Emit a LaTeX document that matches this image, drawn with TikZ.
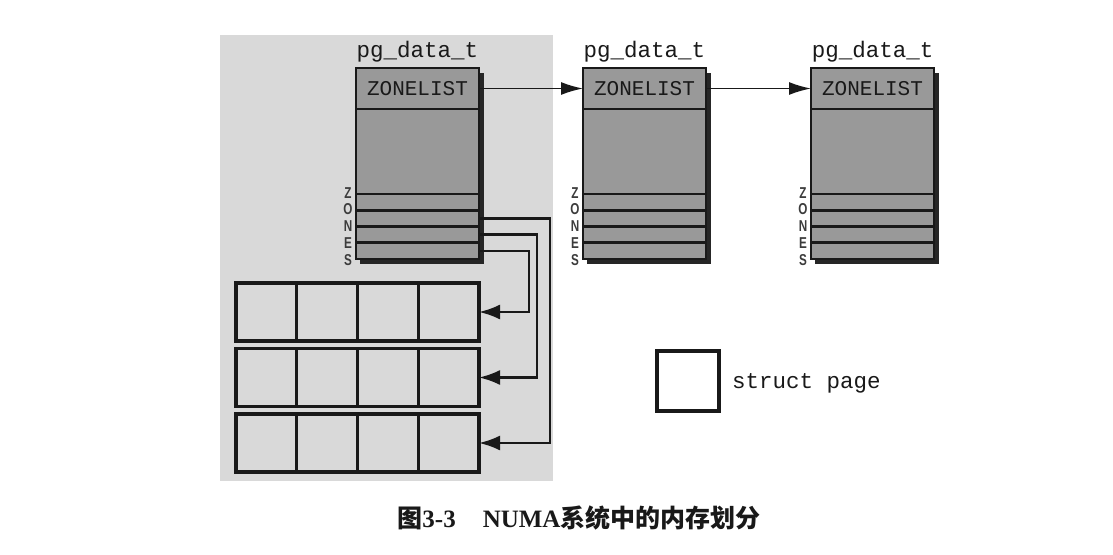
\documentclass[tikz,border=0pt]{standalone}
\usepackage{fontspec}
\setmonofont{Liberation Mono}
\newfontfamily\cjk{Noto Sans CJK SC}
\newfontfamily\capfont{Liberation Serif}
\newfontfamily\zfont{Liberation Sans}
\usetikzlibrary{arrows.meta}
\definecolor{bgc}{gray}{0.85}
\definecolor{boxc}{gray}{0.60}
\definecolor{inkc}{gray}{0.10}
\tikzset{
  part/.style={draw=inkc, fill=boxc, line width=2.7pt, inner sep=0pt, outer sep=0pt,
    minimum width=123pt, anchor=north west},
  hdr/.style={part, minimum height=41pt, font=\ttfamily\fontsize{21}{21}\selectfont, text=inkc},
  bodypart/.style={part, minimum height=85pt},
  zrow/.style={part, minimum height=16.25pt},
  cell/.style={draw=inkc, line width=3.1pt, inner sep=0pt, outer sep=0pt,
    minimum width=60.75pt, minimum height=58pt, anchor=north west},
  lbl/.style={font=\ttfamily\fontsize{22.5}{22.5}\selectfont, text=inkc, inner sep=0pt},
  zl/.style={font=\zfont\bfseries\fontsize{15}{15}\selectfont, text=inkc!85, inner sep=0pt},
  shadow/.style={fill=black!85},
  zarrow/.style={draw=inkc, line width=2.4pt, -{Latex[length=21pt,width=15pt]}},
  larrow/.style={draw=inkc, line width=1.7pt, -{Latex[length=22pt,width=13pt]}},
}
\newcommand{\zlet}[1]{\scalebox{0.78}[1.05]{#1}}
\newcommand{\zletters}[1]{%
  \node[zl] at (#1,193) {\zlet{Z}};
  \node[zl] at (#1,209.5) {\zlet{O}};
  \node[zl] at (#1,226) {\zlet{N}};
  \node[zl] at (#1,243) {\zlet{E}};
  \node[zl] at (#1,260) {\zlet{S}};
}
\begin{document}
\begin{tikzpicture}[x=1pt,y=-1pt]
\useasboundingbox[fill=white] (0,0) rectangle (1113,554);
% shaded region of the first node
\fill[bgc] (220,35) rectangle (553,481);

% shadows
\fill[shadow] (360,73) rectangle (484,264);
\fill[shadow] (587,73) rectangle (711,264);
\fill[shadow] (815,73) rectangle (939,264);

% pg_data_t 1
\node[lbl] (t1) at (417.5,52) {pg\_data\_t};
\node[hdr] (h1) at (356,68) {ZONELIST};
\node[bodypart] (m1) at (h1.south west) {};
\node[zrow] (r1a) at (m1.south west) {};
\node[zrow] (r1b) at (r1a.south west) {};
\node[zrow] (r1c) at (r1b.south west) {};
\node[zrow] (r1d) at (r1c.south west) {};
\zletters{348}

% pg_data_t 2
\node[lbl] (t2) at (644.5,52) {pg\_data\_t};
\node[hdr] (h2) at (583,68) {ZONELIST};
\node[bodypart] (m2) at (h2.south west) {};
\node[zrow] (r2a) at (m2.south west) {};
\node[zrow] (r2b) at (r2a.south west) {};
\node[zrow] (r2c) at (r2b.south west) {};
\node[zrow] (r2d) at (r2c.south west) {};
\zletters{575}

% pg_data_t 3
\node[lbl] (t3) at (872.5,52) {pg\_data\_t};
\node[hdr] (h3) at (811,68) {ZONELIST};
\node[bodypart] (m3) at (h3.south west) {};
\node[zrow] (r3a) at (m3.south west) {};
\node[zrow] (r3b) at (r3a.south west) {};
\node[zrow] (r3c) at (r3b.south west) {};
\node[zrow] (r3d) at (r3c.south west) {};
\zletters{803}

% zonelist links
\draw[larrow] (h1.east) -- (h2.west);
\draw[larrow] (h2.east) -- (h3.west);

% struct page blocks
\foreach \blk/\yy in {1/283,2/348.5,3/414}{
  \node[cell] (g\blk a) at (236,\yy) {};
  \node[cell] (g\blk b) at (g\blk a.north east) {};
  \node[cell] (g\blk c) at (g\blk b.north east) {};
  \node[cell] (g\blk d) at (g\blk c.north east) {};
}

% zone links
\draw[zarrow] (r1b.east) -- ++(71,0) |- (g3d.east);
\draw[zarrow] (r1c.east) -- ++(58,0) |- (g2d.east);
\draw[zarrow] (r1d.east) -- ++(50,0) |- (g1d.east);

% legend
\node[cell, fill=white, minimum width=62pt, minimum height=60pt] (leg) at (657,351) {};
\node[lbl, anchor=west] (legt) at (732,383) {struct page};

% caption
\node[inner sep=0pt, text=inkc] (cap) at (579,518)
  {\fontsize{25}{25}\selectfont\bfseries{\cjk 图}{\capfont 3-3}\hspace{27pt}{\capfont NUMA}{\cjk 系统中的内存划分}};
\end{tikzpicture}
\end{document}
